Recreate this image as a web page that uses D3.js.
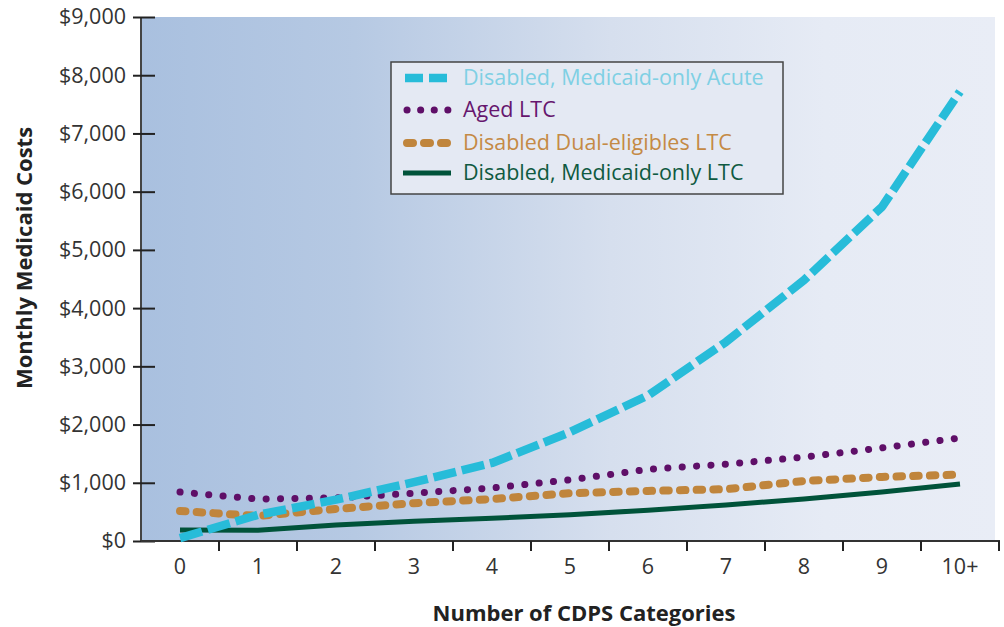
<!DOCTYPE html>
<html><head><meta charset="utf-8">
<script src="https://cdn.jsdelivr.net/npm/d3@7"></script>
<style>body{margin:0;background:#fff}svg{display:block}text{font-family:"Open Sans","Noto Sans",sans-serif}</style>
</head><body>
<svg id="c" width="1004" height="627"></svg>
<script>
const categories = ["0","1","2","3","4","5","6","7","8","9","10+"];
const acute  = [50, 450, 710, 1010, 1340, 1870, 2500, 3420, 4480, 5740, 7720];
const aged   = [840, 720, 740, 820, 910, 1050, 1230, 1320, 1440, 1600, 1770];
const dual   = [515, 430, 550, 650, 720, 820, 860, 890, 1030, 1100, 1140];
const onlyLtc= [190, 185, 275, 340, 390, 450, 530, 620, 720, 840, 980];
const seriesNames = ["Disabled, Medicaid-only Acute","Aged LTC","Disabled Dual-eligibles LTC","Disabled, Medicaid-only LTC"];
const yTicks = [0,1000,2000,3000,4000,5000,6000,7000,8000,9000];

const FONT = '"Open Sans","Noto Sans",sans-serif';
const svg = d3.select("#c");
const L=141, R=999, T=17, B=541;
const x = d3.scaleBand().domain(categories).range([L,R]).padding(0);
const y = d3.scaleLinear().domain([0,9000]).range([B,T]);

const defs = svg.append("defs");
const g = defs.append("linearGradient").attr("id","bg").attr("x1","0").attr("x2","1").attr("y1","0").attr("y2","0");
g.append("stop").attr("offset","0").attr("stop-color","#a9c0df");
g.append("stop").attr("offset","0.25").attr("stop-color","#b6c9e3");
g.append("stop").attr("offset","0.55").attr("stop-color","#d6dfee");
g.append("stop").attr("offset","0.8").attr("stop-color","#e6ebf5");
g.append("stop").attr("offset","1").attr("stop-color","#e9edf6");
svg.append("rect").attr("x",L).attr("y",T).attr("width",995-L).attr("height",B-T).attr("fill","url(#bg)");

// y axis
const ya = svg.append("g").attr("transform",`translate(${L},0)`)
  .call(d3.axisLeft(y).tickValues(yTicks).tickFormat(d=>"$"+d3.format(",")(d)).tickSize(8).tickPadding(7));
ya.select(".domain").attr("stroke","#444").attr("stroke-width",2).attr("d",`M0,${T}V${B}`);
ya.selectAll(".tick line").attr("stroke","#222").attr("stroke-width",2).attr("x1",-8).attr("x2",14);
ya.selectAll(".tick text").attr("font-size",21.5).attr("fill","#333").attr("x",-15).style("font-family",FONT);

// x axis
const xa = svg.append("g").attr("transform",`translate(0,${B})`)
  .call(d3.axisBottom(x).tickSize(0).tickPadding(18));
xa.select(".domain").attr("stroke","#333").attr("stroke-width",2).attr("d",`M${L},0H${R+1}`);
xa.selectAll(".tick text").attr("font-size",21.5).attr("fill","#333").style("font-family",FONT);
const edges = categories.slice(1).map(c=>x(c)).concat([R]);
xa.selectAll(".edge").data(edges).join("line").attr("class","edge")
  .attr("x1",d=>d).attr("x2",d=>d).attr("y1",0).attr("y2",10).attr("stroke","#222").attr("stroke-width",2);

// titles
svg.append("text").attr("x",584).attr("y",621).attr("text-anchor","middle").attr("font-size",22).attr("font-weight","bold").attr("fill","#222").text("Number of CDPS Categories");
svg.append("text").attr("transform","translate(32,258) rotate(-90)").attr("text-anchor","middle").attr("font-size",22).attr("font-weight","bold").attr("fill","#222").text("Monthly Medicaid Costs");

const cx = c => x(c)+x.bandwidth()/2;
const line = d3.line().x((d,i)=>cx(categories[i])).y(d=>y(d));

const styles = [
  {data:acute,  color:"#27bcd9", w:8.5, dash:"23,6", cap:"butt", text:"#7fd0e4"},
  {data:aged,   color:"#5f0f68", w:7, dash:"0.1,14.3", cap:"round", text:"#66166e"},
  {data:dual,   color:"#c0853c", w:8, dash:"5.5,11.2", cap:"round", text:"#c48a45"},
  {data:onlyLtc,color:"#00533a", w:5, dash:null, cap:"butt", text:"#0f5a41"}
];
[3,2,1,0].forEach(k=>{
  const s=styles[k];
  svg.append("path").datum(s.data).attr("d",line).attr("fill","none")
    .attr("stroke",s.color).attr("stroke-width",s.w).attr("stroke-linecap",s.cap)
    .attr("stroke-linejoin","round").attr("stroke-dasharray",s.dash);
});

// legend
const lg = svg.append("g");
lg.append("rect").attr("x",391).attr("y",62).attr("width",392).attr("height",132)
  .attr("fill","#e4e9f3").attr("stroke","#444").attr("stroke-width",1.5);
const rowsY=[78,110,143,173];
seriesNames.forEach((n,i)=>{
  const s=styles[i];
  lg.append("line").attr("x1",i==3?403:(i==0?405:407)).attr("x2",i==3?451:(i==0?450:448)).attr("y1",rowsY[i]).attr("y2",rowsY[i])
    .attr("stroke",s.color).attr("stroke-width",s.w).attr("stroke-linecap",s.cap)
    .attr("stroke-dasharray", i==0?"18,6":(i==1?"0.1,13.5":(i==2?"6,11":null)));
  lg.append("text").attr("x",463).attr("y",rowsY[i]+7).attr("font-size",21.5).attr("fill",s.text).text(n);
});
</script>
</body></html>
